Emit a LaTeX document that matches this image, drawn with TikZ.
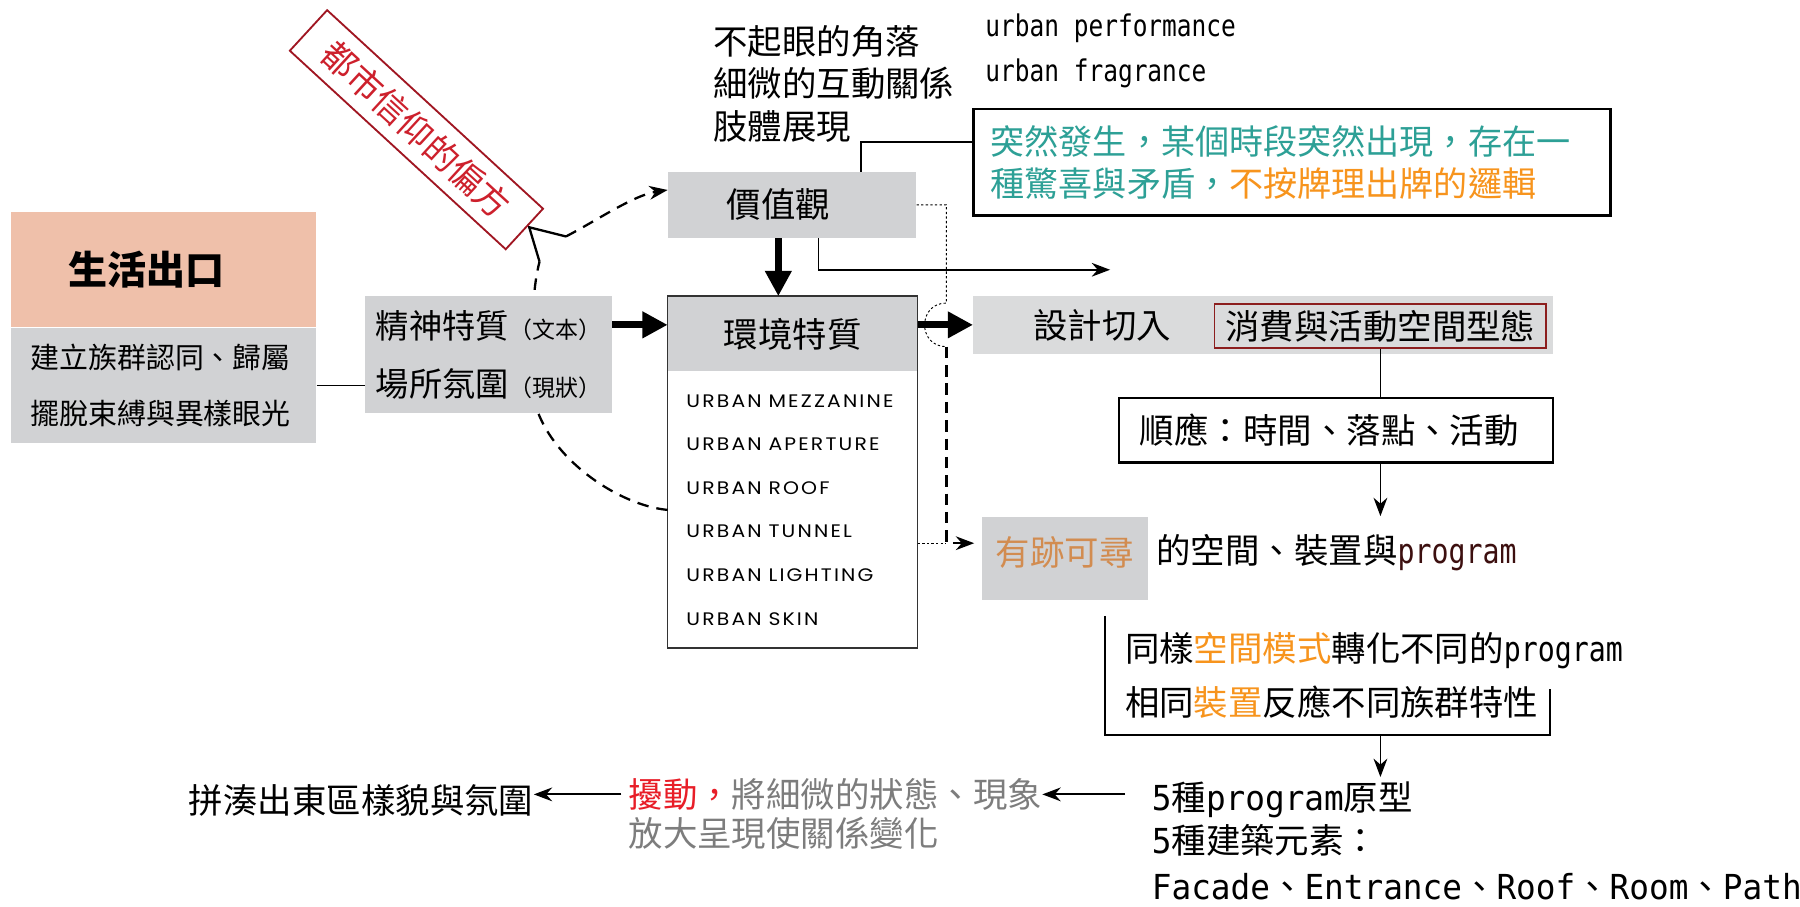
\documentclass[tikz,border=0pt]{standalone}
\usepackage{fontspec}
\setmainfont{Noto Sans CJK TC}
\newfontfamily\mono[FakeStretch=0.82]{DejaVu Sans Mono}
\newfontfamily\monow[FakeStretch=0.95]{DejaVu Sans Mono}
\newfontfamily\caps[LetterSpace=12,FakeStretch=1.12]{Poppins}
\usetikzlibrary{arrows.meta,positioning,calc}

\definecolor{exitfill}{RGB}{239,192,170}
\definecolor{boxgray}{RGB}{209,210,212}
\definecolor{bandgray}{RGB}{218,219,220}
\definecolor{labelred}{RGB}{205,32,44}
\definecolor{labelline}{RGB}{160,22,34}
\definecolor{noteteal}{RGB}{45,160,150}
\definecolor{noteorange}{RGB}{247,148,29}
\definecolor{tracebrown}{RGB}{210,140,80}
\definecolor{progbrown}{RGB}{60,15,15}
\definecolor{stirred}{RGB}{232,30,40}
\definecolor{stirgray}{RGB}{125,125,125}
\definecolor{consumeline}{RGB}{140,30,30}

\newcommand{\paren}[1]{{\fontsize{10pt}{10pt}\selectfont #1}}
\newcommand{\urban}[1]{URBAN\hspace{3pt}#1}

\begin{document}
\begin{tikzpicture}[x=0.5pt,y=-0.5pt,font=\fontsize{15pt}{18.5pt}\selectfont]
  \tikzset{ graybox/.style={fill=boxgray,inner sep=0pt},
    thickarrow/.style={line width=3pt,-{Triangle[length=11pt,width=11pt]}},
    thinarrow/.style={line width=0.8pt,-{Stealth[length=8pt,width=6pt]}},
    dashcurve/.style={line width=1pt,dash pattern=on 5pt off 3.5pt},
    dotline/.style={line width=0.4pt,dash pattern=on 1pt off 1pt},
  }
  \fill[white] (0,0) rectangle (1568,790);
  \useasboundingbox (0,0) rectangle (1568,790);

  % left column
  \node[fill=exitfill, minimum height=50pt, inner xsep=25pt, inner ysep=0pt, text width=82.5pt, align=left,
        font=\fontsize{17pt}{20pt}\selectfont\bfseries] (exit) at (142.5,235) {生活出口};
  \node[graybox, below=0pt of exit, minimum height=50pt, inner xsep=8.5pt, text width=116pt, align=left,
        font=\fontsize{12.6pt}{24.5pt}\selectfont] (belong) {建立族群認同、歸屬\\擺脫束縛與異樣眼光};

  % middle column
  \node[graybox, minimum height=28.5pt, inner xsep=25.5pt, text width=57pt, align=left] (value) at (690,178.5) {價值觀};
  \node[graybox, minimum width=108.5pt, minimum height=32.5pt, anchor=north] (envhead) at (690.5,258) {環境特質};
  \node[below=0pt of envhead, minimum height=120pt, inner xsep=8pt, text width=92.5pt, align=left,
        font=\caps\fontsize{7.9pt}{19pt}\selectfont] (envlist)
        {\urban{MEZZANINE}\\\urban{APERTURE}\\\urban{ROOF}\\\urban{TUNNEL}\\\urban{LIGHTING}\\\urban{SKIN}};
  \draw[line width=0.6pt, black!80] (envhead.north west) rectangle (envlist.south east);

  % the dashed loop behind the spirit box
  \coordinate (curveA) at (463,330);
  \coordinate (curveB) at (470,228);
  \coordinate (tailtip) at (461,198);
  \coordinate (curveC) at (493,206);
  \draw[dashcurve] (envlist.west) .. controls (535,440) and (463,390) .. (curveA)
        .. controls (463,285) and (464,250) .. (curveB);
  \draw[line width=1pt] (curveB) -- (tailtip) -- (curveC);
  \draw[dashcurve,-{Stealth[length=8pt,width=6pt]}] (curveC) .. controls (520,192) and (552,170) .. ($(value.west)+(0,-13)$);

  \node[graybox, minimum height=51pt, minimum width=107.5pt, inner xsep=4pt, align=left,
        font=\fontsize{14.5pt}{25pt}\selectfont] (spirit) at (425.5,309)
        {精神特質\paren{（文本）}\\場所氛圍\paren{（現狀）}};

  \node[draw=labelline, fill=white, line width=0.8pt, rotate=-42.6, minimum width=127.75pt, minimum height=24pt,
        inner sep=0pt, text=labelred] (belief) at (362.75,113) {都市信仰的偏方};

  % top texts
  \node[align=left, anchor=west, inner sep=0pt] (corner) at (621,73) {不起眼的角落\\細微的互動關係\\肢體展現};
  \node[align=left, anchor=west, inner sep=0pt, font=\mono\fontsize{13pt}{19.5pt}\selectfont] (perf) at (858,44.5)
        {urban performance\\urban fragrance};
  \node[draw, line width=1.2pt, minimum height=46.5pt, inner xsep=7.5pt, text width=262.5pt, align=left,
        font=\fontsize{14.85pt}{18pt}\selectfont] (note) at (1125.5,141.5)
        {\textcolor{noteteal}{突然發生，某個時段突然出現，存在一}\\\textcolor{noteteal}{種驚喜與矛盾，}\textcolor{noteorange}{不按牌理出牌的邏輯}};

  % right column
  \node[fill=bandgray, minimum height=25pt, inner xsep=26pt, inner ysep=0pt, text width=200.5pt, align=left] (cut) at (1100.5,283) {設計切入};
  \node[draw=consumeline, line width=0.8pt, minimum width=144.5pt, minimum height=19pt, inner sep=0pt] (consume) at (1202.5,284) {消費與活動空間型態};
  \node[draw, line width=1pt, minimum height=28pt, inner xsep=9pt, text width=171pt, align=left] (adapt) at (1164,375) {順應：時間、落點、活動};
  \node[graybox, minimum width=72.5pt, minimum height=36.5pt, text height=13pt, text depth=7pt, text=tracebrown] (trace) at (927.5,486.5) {有跡可尋};
  \node[anchor=west, inner sep=0pt] (tracetxt) at (1007,481) {的空間、裝置與{\mono\color{progbrown}program}};
  \node[inner xsep=8.5pt, text width=176.5pt, minimum height=51.5pt, align=left, font=\fontsize{15pt}{23.5pt}\selectfont] (same) at (1156.5,588.5)
        {同樣\textcolor{noteorange}{空間模式}轉化不同的{\mono program}\\相同\textcolor{noteorange}{裝置}反應不同族群特性};

  % bottom row
  \node[anchor=west, inner sep=0pt] (five) at (1003,697) {{\monow 5}種{\monow program}原型};
  \node[anchor=north west, inner sep=0pt, align=left, font=\fontsize{15pt}{20pt}\selectfont] (elements) at (1003,718)
        {{\monow 5}種建築元素：\\{\monow Facade}、{\monow Entrance}、{\monow Roof}、{\monow Room}、{\monow Path}};
  \node[anchor=east, inner sep=0pt] (stir) at (908,692) {\textcolor{stirred}{擾動，}\textcolor{stirgray}{將細微的狀態、現象}};
  \node[anchor=north west, inner sep=0pt, text=stirgray] (stir2) at ($(stir.south west)+(0,5)$) {放大呈現使關係變化};
  \node[anchor=east, inner sep=0pt] (whole) at (465,697) {拼湊出東區樣貌與氛圍};

  % connections
  \draw[line width=0.8pt] (belong.east) -- (belong.east -| spirit.west);
  \draw[thickarrow] (spirit.east |- cut.west) -- (envhead.west |- cut.west);
  \draw[thickarrow] ($(value.south)+(-12,0)$) -- ($(envhead.north)+(-12.5,0)$);
  \draw[thickarrow] (envhead.east |- cut.west) -- (cut.west);
  \draw[line width=0.8pt] ($(value.north)+(60,0)$) |- ($(note.west)+(0,-17.5)$);
  \coordinate (gapend) at (967,235);
  \draw[thinarrow] ($(value.south)+(23,0)$) |- (gapend);

  % dotted hop and dashed drop
  \coordinate (hop) at ($(envhead.east |- cut.west)+(25,0)$);
  \coordinate (tunnel) at ($(envlist.east)+(0,29)$);
  \draw[dotline] (value.east) -| ($(hop)+(0,-19)$) .. controls ($(hop)+(-25.3,-19)$) and ($(hop)+(-25.3,19)$) .. ($(hop)+(0,19)$);
  \draw[line width=1pt, dash pattern=on 5pt off 3pt] ($(hop)+(0,19)$) -- (hop |- tunnel);
  \draw[dotline] (tunnel) -- (hop |- tunnel);
  \draw[thinarrow] ($(hop |- tunnel)+(6,0)$) -- ($(trace.west |- tunnel)+(-6,0)$);

  \draw[line width=0.8pt] (consume.south) -- (consume.south |- adapt.north);
  \draw[thinarrow] (consume.south |- adapt.south) -- (consume.south |- trace.north);
  \draw[line width=1pt] (same.north west) -- (same.south west) -- (same.south east) -- ($(same.south east)+(0,-40)$);
  \draw[thinarrow] (consume.south |- same.south) -- ($(consume.south |- five.north)+(0,-4)$);
  \coordinate (fivein) at ($(five.west)+(-23,-5)$);
  \draw[thinarrow] (fivein) -- (fivein -| stir.east);
  \draw[thinarrow] ($(stir.west)+(-6,0)$) -- (stir.west -| whole.east);
\end{tikzpicture}
\end{document}
